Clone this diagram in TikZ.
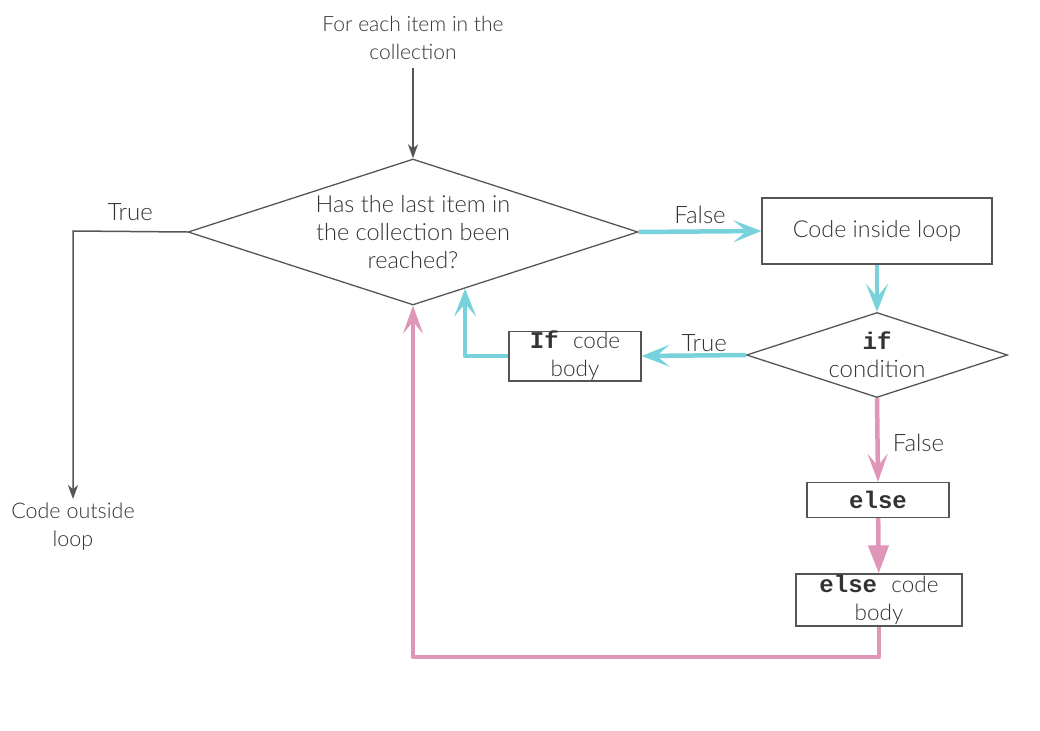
\documentclass[tikz,border=0pt]{standalone}
\usepackage{fontspec}
\IfFontExistsTF{Lato Light}{\setmainfont{Lato Light}}{\setmainfont{Lato}}
\newfontfamily\codefont{Liberation Mono}
\usetikzlibrary{arrows.meta}
\usetikzlibrary{shapes.geometric}
\usetikzlibrary{calc}
\definecolor{loopcyan}{HTML}{78D2DC}
\definecolor{looppink}{HTML}{E096B9}
\definecolor{linegray}{HTML}{555555}
\definecolor{textgray}{HTML}{333333}
\tikzset{
fs/.style  = {font=\fontsize{#1}{28}\selectfont},
fs/.default = 21, % text size in px
txt/.style = {text=textgray, fs, align=center, inner sep=0pt},
box/.style = {txt, rectangle, draw=linegray, line width=1.3pt},
dia/.style = {txt, diamond, draw=linegray, line width=1.3pt, aspect=#1},
dia/.default = 3 % width over height
}
\tikzset{
grayflow/.style = {draw=linegray, line width=1.5pt,
                   -{Stealth[length=14pt, width=10pt, inset=4pt]}},
cyanflow/.style = {draw=loopcyan, line width=4.5pt, line join=round,
                   -{Stealth[length=28pt, width=22pt, inset=13pt]}},
pinkflow/.style = {draw=looppink, line width=4.5pt, line join=round,
                   -{Stealth[length=28pt, width=20pt, inset=12pt]}},
pinktri/.style  = {draw=looppink, line width=4.5pt,
                   -{Triangle[length=28pt, width=20pt]}}
}
\newcommand{\kw}[1]{{\codefont\bfseries\fontsize{24}{28}\selectfont #1}}
\begin{document}
\begin{tikzpicture}[x=1pt, y=-1pt]
    \useasboundingbox (0,0) rectangle (1040,730);

    \node[txt] (start) at (413,38) {For each item in the\\collection};
    \node[dia=3.08, fs=23.5, minimum width=450, minimum height=146] (last) at (413,232)
        {Has the last item in\\the collection been\\reached?};
    \node[txt, fs=21.5] (outside) at (73,527) {Code outside\\loop};
    \coordinate (corner) at (73,231);

    \node[box, fs=23.3, minimum width=230, minimum height=66] (inside) at (877,231) {Code inside loop};
    \node[dia=3.07, fs=24, minimum width=261, minimum height=85] (cond) at (877,355) {\kw{if}\\condition};
    \node[box, fs=22.5, minimum width=132, minimum height=48] (ifbody) at (575,356) {\kw{If\ }code\\body};
    \node[box, minimum width=142, minimum height=35] (else) at (878,500) {\kw{else}};
    \node[box, fs=22.5, minimum width=166, minimum height=52] (elsebody) at (879,600) {\kw{else\ }code\\body};

    % entry and exit of the loop
    \draw[grayflow, shorten <=8pt] (start) -- (last);
    \draw[grayflow, shorten >=4pt] (last.west) -- node[txt, fs=24, above=10pt] {True} (corner) -- (outside);

    % true branch
    \draw[cyanflow] (last.east) -- node[txt, fs=24, above=6pt] {False} (inside.west);
    \draw[cyanflow] (inside) -- (cond);
    \draw[cyanflow] (cond.west) -- node[txt, fs=24, pos=0.4, above=1pt] {True} (ifbody.east);
    \coordinate (ifback) at ($(last.south)!0.231!(last.east)$);
    \draw[cyanflow] (ifbody.west) -| (ifback);

    % else branch
    \draw[pinkflow] (cond.south) -- node[txt, fs=24, right=13pt, yshift=-3pt] {False} (else.north);
    \draw[pinktri] (else) -- (elsebody);
    \coordinate (elseback) at (879,657);
    \draw[pinkflow] (elsebody.south) -- (elseback) -| (last.south);
\end{tikzpicture}
\end{document}
